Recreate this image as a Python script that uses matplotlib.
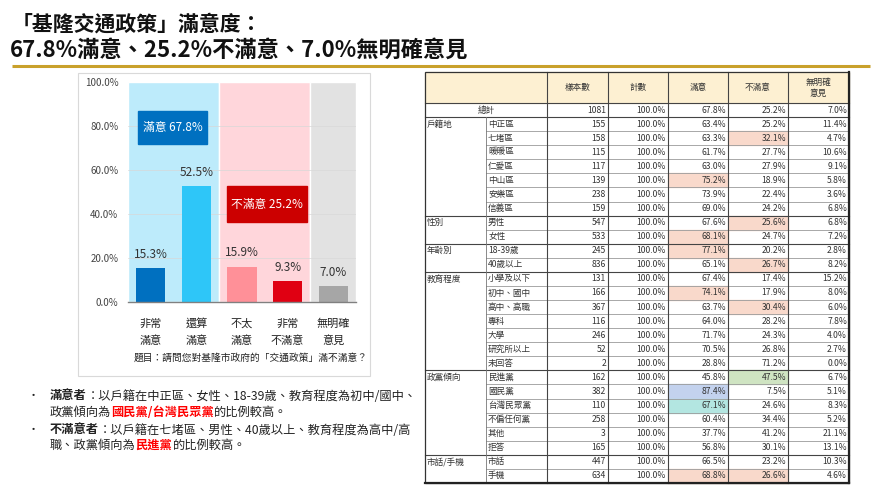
import matplotlib.pyplot as plt
from matplotlib.patches import Rectangle

plt.rcParams['font.family'] = ['Noto Sans CJK TC', 'DejaVu Sans']

# 長條圖資料
categories = ['非常\n滿意', '還算\n滿意', '不太\n滿意', '非常\n不滿意', '無明確\n意見']
values = [15.3, 52.5, 15.9, 9.3, 7.0]
total_satisfied = 67.8
total_unsatisfied = 25.2
total_no_opinion = 7.0

# 交叉表資料
header = ['樣本數', '計數', '滿意', '不滿意', '無明確\n意見']
total_row = [1081, 100.0, 67.8, 25.2, 7.0]
group_names = ['戶籍地', '性別', '年齡別', '教育程度', '政黨傾向', '市話/手機']
group_sizes = [7, 2, 2, 7, 6, 2]
row_labels = ['中正區', '七堵區', '暖暖區', '仁愛區', '中山區', '安樂區', '信義區',
              '男性', '女性', '18-39歲', '40歲以上',
              '小學及以下', '初中、國中', '高中、高職', '專科', '大學', '研究所以上', '未回答',
              '民進黨', '國民黨', '台灣民眾黨', '不偏任何黨', '其他', '拒答',
              '市話', '手機']
samples = [155, 158, 115, 117, 139, 238, 159, 547, 533, 245, 836,
           131, 166, 367, 116, 246, 52, 2, 162, 382, 110, 258, 3, 165, 447, 634]
count_pct = [100.0, 100.0, 100.0, 100.0, 100.0, 100.0, 100.0, 100.0, 100.0, 100.0, 100.0,
             100.0, 100.0, 100.0, 100.0, 100.0, 100.0, 100.0, 100.0, 100.0, 100.0, 100.0,
             100.0, 100.0, 100.0, 100.0]
satisfied = [63.4, 63.3, 61.7, 63.0, 75.2, 73.9, 69.0, 67.6, 68.1, 77.1, 65.1,
             67.4, 74.1, 63.7, 64.0, 71.7, 70.5, 28.8, 45.8, 87.4, 67.1, 60.4,
             37.7, 56.8, 66.5, 68.8]
unsatisfied = [25.2, 32.1, 27.7, 27.9, 18.9, 22.4, 24.2, 25.6, 24.7, 20.2, 26.7,
               17.4, 17.9, 30.4, 28.2, 24.3, 26.8, 71.2, 47.5, 7.5, 24.6, 34.4,
               41.2, 30.1, 23.2, 26.6]
no_opinion = [11.4, 4.7, 10.6, 9.1, 5.8, 3.6, 6.8, 6.8, 7.2, 2.8, 8.2,
              15.2, 8.0, 6.0, 7.8, 4.0, 2.7, 0.0, 6.7, 5.1, 8.3, 5.2,
              21.1, 13.1, 10.3, 4.6]

# 標色的格子 (列, 欄)
salmon = '#F9D9CB'
highlights = {(1, 3): salmon, (4, 2): salmon, (7, 3): salmon, (8, 2): salmon,
              (9, 2): salmon, (10, 3): salmon, (12, 2): salmon, (13, 3): salmon,
              (18, 3): '#CFE4C2', (19, 2): '#C3D2EE', (20, 2): '#B3E6E1',
              (25, 2): salmon, (25, 3): salmon}

W, H = 874, 492
fig = plt.figure(figsize=(W / 100, H / 100), dpi=100)
fig.patch.set_facecolor('white')

# 整張圖的像素座標
bg = fig.add_axes([0, 0, 1, 1])
bg.set_xlim(0, W)
bg.set_ylim(H, 0)
bg.axis('off')

# 標題
bg.text(12, 24, '「基隆交通政策」滿意度：', fontsize=15, weight='bold', va='center', color='#111111')
bg.text(10, 50, f'{total_satisfied:.1f}%滿意、{total_unsatisfied:.1f}%不滿意、{total_no_opinion:.1f}%無明確意見',
        fontsize=16, weight='bold', va='center', color='#111111')
bg.plot([12, 870], [65.5, 65.5], color='#C9A12B', lw=2.2, solid_capstyle='butt')

# 圖框
bg.add_patch(Rectangle((78, 73), 292, 303, fill=False, ec='#D9D9D9', lw=0.8))
bg.text(368, 358, '題目：請問您對基隆市政府的「交通政策」滿不滿意？', fontsize=7,
        ha='right', va='center', color='#222222')

# 長條圖
ax = fig.add_axes([128 / W, 1 - 301.7 / H, 228 / W, 220 / H])
ax.set_xlim(-0.5, 4.5)
ax.set_ylim(0, 100)
ax.axvspan(-0.5, 1.5, color='#BDEBFB', ec='white', lw=1, zorder=0)
ax.axvspan(1.5, 3.5, color='#FFD6DB', ec='white', lw=1, zorder=0)
ax.axvspan(3.5, 4.5, color='#E2E2E2', ec='white', lw=1, zorder=0)
for yv in [20, 40, 60, 80]:
    ax.axhline(yv, color='#D8D8D8', lw=0.5, zorder=0.5)
bar_colors = ['#0070C0', '#2EC6F8', '#FF9098', '#E00012', '#A6A6A6']
x = range(len(values))
ax.bar(x, values, width=0.64, color=bar_colors, zorder=2)
for xi, v in zip(x, values):
    ax.annotate(f'{v:.1f}%', (xi, v), xytext=(0, 10), textcoords='offset points',
                ha='center', va='center', fontsize=8.5, color='#333333')
ax.set_xticks(list(x))
ax.set_xticklabels(categories, fontsize=8, linespacing=1.75, color='#222222')
ax.set_yticks([0, 20, 40, 60, 80, 100])
ax.set_yticklabels([f'{t:.1f}%' for t in [0, 20, 40, 60, 80, 100]], fontsize=7, color='#444444')
ax.tick_params(length=0)
ax.tick_params(axis='x', pad=12)
ax.tick_params(axis='y', pad=7)
for s in ['top', 'right', 'left']:
    ax.spines[s].set_visible(False)
ax.spines['bottom'].set_color('#808080')
ax.spines['bottom'].set_linewidth(1.0)

# 合計標籤
ax.add_patch(Rectangle((0.044, 71.7), 0.302, 15.1, transform=ax.get_yaxis_transform(),
                       color='#0070C0', zorder=3))
ax.text(0.195, 79.2, f'滿意 {total_satisfied:.1f}%', transform=ax.get_yaxis_transform(),
        ha='center', va='center', color='white', fontsize=8.5, zorder=4)
ax.add_patch(Rectangle((0.434, 36.1), 0.351, 16.6, transform=ax.get_yaxis_transform(),
                       color='#CC0000', zorder=3))
ax.text(0.61, 44.4, f'不滿意 {total_unsatisfied:.1f}%', transform=ax.get_yaxis_transform(),
        ha='center', va='center', color='white', fontsize=8.5, zorder=4)

# 說明文字 (混合樣式)
def rich_line(x0, y0, parts, fs=8.8):
    t = None
    for s, c, w in parts:
        if t is None:
            t = bg.text(x0, y0, s, color=c, weight=w, fontsize=fs, va='center', ha='left')
        else:
            t = bg.annotate(s, xy=(1, 0), xycoords=t, va='bottom', ha='left',
                            color=c, weight=w, fontsize=fs)

dark = '#222222'
red = '#FF0000'
bg.text(28, 396, '•', fontsize=8, va='center', color=dark)
rich_line(50, 396, [('滿意者', dark, 'bold'), ('：以戶籍在中正區、女性、18-39歲、教育程度為初中/國中、', dark, 'normal')])
rich_line(50, 412, [('政黨傾向為', dark, 'normal'), ('國民黨/台灣民眾黨', red, 'bold'), ('的比例較高。', dark, 'normal')])
bg.text(28, 430, '•', fontsize=8, va='center', color=dark)
rich_line(50, 430, [('不滿意者', dark, 'bold'), ('：以戶籍在七堵區、男性、40歲以上、教育程度為高中/高', dark, 'normal')])
rich_line(50, 445, [('職、政黨傾向為', dark, 'normal'), ('民進黨', red, 'bold'), ('的比例較高。', dark, 'normal')])

# 交叉表
col_edges = [425, 486, 547, 608, 668, 728, 788, 849]
y_top = 72
head_bottom = 103
n_rows = len(row_labels) + 1
row_h = (483 - head_bottom) / n_rows
tfs = 6.2
tcol = '#333333'

bg.add_patch(Rectangle((col_edges[0], y_top), col_edges[-1] - col_edges[0], head_bottom - y_top,
                       color='#FDF0D2', zorder=1))
for j, h in enumerate(header):
    xc = (col_edges[j + 2] + col_edges[j + 3]) / 2
    bg.text(xc, (y_top + head_bottom) / 2, h, fontsize=tfs, ha='center', va='center',
            color=tcol, linespacing=1.3, zorder=3)

def row_top(i):
    return head_bottom + i * row_h

def fmt(j, v):
    return f'{v}' if j == 0 else f'{v:.1f}%'

# 總計
yc = row_top(0) + row_h / 2
bg.text((col_edges[0] + col_edges[2]) / 2, yc, '總計', fontsize=tfs, ha='center', va='center', color=tcol)
for j, v in enumerate(total_row):
    bg.text(col_edges[j + 3] - 2, yc, fmt(j, v), fontsize=tfs, ha='right', va='center', color=tcol)

columns = [samples, count_pct, satisfied, unsatisfied, no_opinion]
for i, lab in enumerate(row_labels):
    top = row_top(i + 1)
    yc = top + row_h / 2
    bg.text(col_edges[1] + 2, yc, lab, fontsize=tfs, ha='left', va='center', color=tcol, zorder=3)
    for j, col in enumerate(columns):
        if (i, j) in highlights:
            bg.add_patch(Rectangle((col_edges[j + 2], top), col_edges[j + 3] - col_edges[j + 2], row_h,
                                   color=highlights[(i, j)], zorder=1))
        bg.text(col_edges[j + 3] - 2, yc, fmt(j, col[i]), fontsize=tfs, ha='right', va='center',
                color=tcol, zorder=3)

# 分組名稱與橫線
start = 0
group_lines = [row_top(1)]
for g, n in zip(group_names, group_sizes):
    bg.text(col_edges[0] + 2, row_top(start + 1) + row_h / 2, g, fontsize=tfs, ha='left',
            va='center', color=tcol, zorder=3)
    for k in range(1, n):
        yy = row_top(start + 1 + k)
        bg.plot([col_edges[1], col_edges[-1]], [yy, yy], color='#9A9A9A', lw=0.6, zorder=2)
    start += n
    group_lines.append(row_top(start + 1))

for yy in [head_bottom] + group_lines[:-1]:
    bg.plot([col_edges[0], col_edges[-1]], [yy, yy], color='#444444', lw=0.8, zorder=2)

for xx in col_edges[2:-1]:
    bg.plot([xx, xx], [y_top, 483], color='#444444', lw=0.8, zorder=2)
bg.plot([col_edges[1], col_edges[1]], [row_top(1), 483], color='#777777', lw=0.6, zorder=2)
bg.add_patch(Rectangle((col_edges[0], y_top), col_edges[-1] - col_edges[0], 483 - y_top,
                       fill=False, ec='#333333', lw=0.9, zorder=4))
bg.plot([col_edges[-1], col_edges[-1]], [y_top, 483], color='#222222', lw=1.6, zorder=4)
bg.plot([col_edges[0], col_edges[-1]], [483, 483], color='#222222', lw=1.6, zorder=4)

fig.savefig('out.png', dpi=100)
